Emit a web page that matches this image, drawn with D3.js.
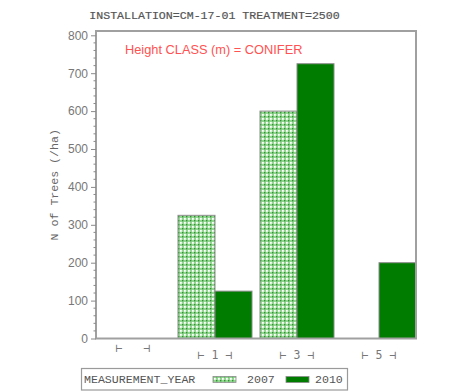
<!DOCTYPE html>
<html>
<head>
<meta charset="utf-8">
<script src="https://cdn.jsdelivr.net/npm/d3@7"></script>
<style>
  html, body { margin: 0; padding: 0; background: #fff; }
  svg { display: block; }
</style>
</head>
<body>
<svg id="chart" width="451" height="391"></svg>
<script>
// Height classes along the x axis and their bracketed tick labels
const heightClasses = ["0", "1", "3", "5"];
const tickLabels = ["\u22A2   \u22A3", "\u22A2 1 \u22A3", "\u22A2 3 \u22A3", "\u22A2 5 \u22A3"];
// Measurement years (series)
const years = ["2007", "2010"];
// N of trees per hectare by height class
const trees2007 = [0, 325, 600, 0];
const trees2010 = [0, 125, 725, 200];
const yTicks = [0, 100, 200, 300, 400, 500, 600, 700, 800];

const svg = d3.select("#chart");
const mono = "'Liberation Mono', 'Courier New', monospace";
const sans = "'Liberation Sans', Arial, sans-serif";
const gray = "#8a8a8a";

const plot = { left: 96, right: 416, top: 31, bottom: 338.5 };

// Checkered fill for the 2007 series
const defs = svg.append("defs");
const pat = defs.append("pattern")
  .attr("id", "check").attr("patternUnits", "userSpaceOnUse")
  .attr("width", 4).attr("height", 4);
pat.append("rect").attr("width", 4).attr("height", 4).attr("fill", "#92d692");
pat.append("rect").attr("x", 0).attr("y", 0).attr("width", 1.4).attr("height", 1.4).attr("fill", "#2f922f");
pat.append("rect").attr("x", 2).attr("y", 2).attr("width", 1.8).attr("height", 1.8).attr("fill", "#ffffff");

const fills = { "2007": "url(#check)", "2010": "#007c00" };

const x0 = d3.scaleBand().domain(heightClasses)
  .range([plot.left, plot.right]).paddingInner(8 / 82).paddingOuter(0);
const x1 = d3.scaleBand().domain(years).range([0, x0.bandwidth()]).padding(0);
const y = d3.scaleLinear().domain([0, 800]).range([plot.bottom, 35.3]);

const rows = heightClasses.map((c, i) => ({ cls: c, values: [trees2007[i], trees2010[i]] }));

// Title
svg.append("text")
  .attr("x", 214.5).attr("y", 18.5)
  .attr("text-anchor", "middle")
  .attr("font-family", mono).attr("font-size", 11.6).attr("fill", "#555")
  .attr("stroke", "#555").attr("stroke-width", 0.2)
  .text("INSTALLATION=CM-17-01 TREATMENT=2500");

// Bars
const groups = svg.append("g").selectAll("g").data(rows).join("g")
  .attr("transform", d => `translate(${x0(d.cls)},0)`);
groups.selectAll("rect")
  .data(d => d.values.map((v, j) => ({ year: years[j], v })).filter(e => e.v > 0))
  .join("rect")
  .attr("x", d => x1(d.year))
  .attr("y", d => y(d.v))
  .attr("width", x1.bandwidth())
  .attr("height", d => y(0) - y(d.v))
  .attr("fill", d => fills[d.year])
  .attr("stroke", "#8c8c8c").attr("stroke-width", 1);

// Plot frame
svg.append("rect")
  .attr("x", plot.left).attr("y", plot.top)
  .attr("width", plot.right - plot.left).attr("height", plot.bottom - plot.top)
  .attr("fill", "none").attr("stroke", "#a0a0a0").attr("stroke-width", 2);

// Y axis with minor ticks
const yAxis = d3.axisLeft(y).tickValues(yTicks).tickSize(5).tickPadding(3);
const gy = svg.append("g").attr("transform", `translate(${plot.left},0)`).call(yAxis);
gy.select(".domain").remove();
gy.selectAll(".tick line").attr("stroke", gray);
gy.selectAll(".tick text").attr("font-family", sans).attr("font-size", 12).attr("fill", "#777");
const minor = d3.range(0, 800, 20).filter(v => v % 100 !== 0);
svg.append("g").selectAll("line").data(minor).join("line")
  .attr("x1", plot.left - 2.5).attr("x2", plot.left)
  .attr("y1", d => y(d)).attr("y2", d => y(d))
  .attr("stroke", gray).attr("stroke-width", 1);

// Y axis title
svg.append("text")
  .attr("transform", `translate(58,${(plot.top + plot.bottom) / 2}) rotate(-90)`)
  .attr("text-anchor", "middle")
  .attr("font-family", mono).attr("font-size", 11.6).attr("fill", "#666")
  .text("N of Trees (/ha)");

// X tick labels (spacing kept inside the brackets)
svg.append("g").selectAll("text").data(heightClasses).join("text")
  .attr("x", (d, i) => x0(d) + x0.bandwidth() / 2)
  .attr("y", (d, i) => i === 0 ? 352 : 359)
  .attr("text-anchor", "middle")
  .style("white-space", "pre")
  .attr("font-family", "'DejaVu Sans Mono', monospace").attr("font-size", 11.5).attr("fill", "#777")
  .text((d, i) => tickLabels[i]);

// Inset caption
svg.append("text")
  .attr("x", 125).attr("y", 54)
  .attr("font-family", sans).attr("font-size", 12.8).attr("fill", "#ff5252")
  .text("Height CLASS (m) = CONIFER");

// Legend
const lg = svg.append("g");
lg.append("rect").attr("x", 81.5).attr("y", 368.5).attr("width", 266).attr("height", 21.5)
  .attr("fill", "#fff").attr("stroke", "#9a9a9a").attr("stroke-width", 1.2);
lg.append("text").attr("x", 84).attr("y", 383)
  .attr("font-family", mono).attr("font-size", 11.6).attr("fill", "#555")
  .text("MEASUREMENT_YEAR");
const legendItems = [
  { year: years[0], sx: 213, tx: 247 },
  { year: years[1], sx: 286, tx: 315 }
];
legendItems.forEach(it => {
  lg.append("rect").attr("x", it.sx).attr("y", 376.5).attr("width", 23).attr("height", 6)
    .attr("fill", fills[it.year]).attr("stroke", "#8c8c8c").attr("stroke-width", 0.8);
  lg.append("text").attr("x", it.tx).attr("y", 383)
    .attr("font-family", mono).attr("font-size", 11.6).attr("fill", "#555")
    .text(it.year);
});
</script>
</body>
</html>
